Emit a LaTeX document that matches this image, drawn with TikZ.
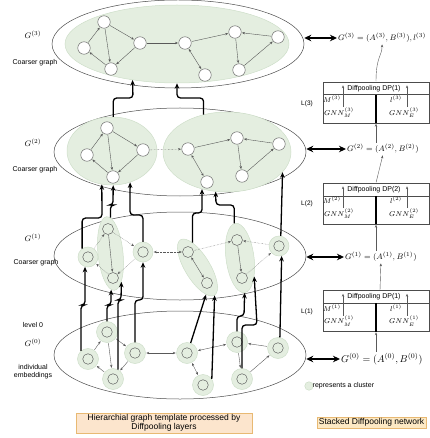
\documentclass[tikz,border=0pt]{standalone}
\usepackage{fontspec}
\setsansfont{Liberation Sans}
\usepackage{xcolor}
\usepackage{tikz}
\usetikzlibrary{positioning,arrows.meta,shapes.geometric}
\definecolor{clu}{RGB}{228,238,224}
\definecolor{cluedge}{RGB}{206,222,201}
\definecolor{peach}{RGB}{252,229,205}
\definecolor{peachedge}{RGB}{232,185,115}
\definecolor{sand}{RGB}{253,233,196}

\begin{document}
\begin{tikzpicture}[x=1pt, y=-1pt,
  tp/.tip={Stealth[length=3pt,width=2.4pt]},
  bg/.tip={Stealth[length=5.5pt,width=4.6pt]},
  dt/.tip={Stealth[length=7pt,width=6.5pt]},
  outer/.style={draw=black!70, line width=0.5pt, ellipse, minimum width=252pt, minimum height=88pt, inner sep=0pt},
  grp/.style={ellipse, fill=clu, draw=cluedge, line width=0.5pt, inner sep=0pt},
  vtx/.style={circle, draw=black!65, fill=white, line width=0.45pt, minimum size=12.5pt, inner sep=0pt},
  pvx/.style={circle, draw=black!65, line width=0.45pt, minimum size=11pt, inner sep=0pt},
  solo/.style={circle, fill=clu, draw=cluedge, line width=0.5pt, minimum size=21pt, inner sep=0pt,
    path picture={\draw[black!65, line width=0.45pt] (path picture bounding box.center) circle (5.3pt);}},
  tarr/.style={-tp, black!65, line width=0.4pt, shorten >=0.5pt, shorten <=0.5pt},
  dots/.style={tarr, densely dotted},
  thk/.style={-bg, line width=1.3pt, rounded corners=3.5pt},
  dbl/.style={dt-dt, line width=1.5pt},
  dpbox/.style={draw=black!70, line width=0.5pt, minimum width=106pt, minimum height=41pt, inner sep=0pt},
  lab/.style={font=\sffamily\fontsize{7}{8}\selectfont, inner sep=0pt, align=center},
  mth/.style={font=\fontsize{7}{8}\selectfont, inner sep=0pt},
  frm/.style={anchor=west, inner sep=1pt, font=\fontsize{8}{9}\selectfont},
  note/.style={line width=0.5pt, draw=peachedge, font=\sffamily\fontsize{8.5}{9}\selectfont, inner sep=0pt, align=center},
]
\useasboundingbox (0,0) rectangle (429,438);

\node[outer] (L3) at (178,44) {};
\node[outer] (L2) at (180,152) {};
\node[outer] (L1) at (180,256) {};
\node[outer] (L0) at (180,355) {};

\node[grp, minimum width=224pt, minimum height=78pt] (E3) at (177,44) {};
\node[grp, minimum width=90pt, minimum height=68pt] (E2a) at (112,151) {};
\node[grp, minimum width=128pt, minimum height=80pt] (E2b) at (227,152) {};
\node[grp, minimum width=74pt, minimum height=25pt, rotate=-84] (c23) at (110.5,253.5) {};
\node[grp, minimum width=65pt, minimum height=25pt, rotate=-58.5] (c56) at (197.5,267.5) {};
\node[grp, minimum width=70pt, minimum height=28pt, rotate=-82.5] (c78) at (240,258) {};

\node[vtx] (u1) at (84,48) {};
\node[vtx] (u2) at (104,22) {};
\node[vtx] (u3) at (111,69) {};
\node[vtx] (u4) at (140,43) {};
\node[vtx] (u5) at (185,43) {};
\node[vtx] (u6) at (205,75) {};
\node[vtx] (u7) at (235,32) {};
\node[vtx] (u8) at (239,70) {};
\node[vtx] (u9) at (278,37) {};
\draw[tarr] (u1) -- (u2);
\draw[tarr] (u2) -- (u3);
\draw[tarr] (u2) -- (u4);
\draw[tarr] (u4) -- (u3);
\draw[tarr] (u3) -- (u1);
\draw[tarr] (u4) -- (u5);
\draw[tarr, tp-tp] (u5) -- (u6);
\draw[tarr] (u5) -- (u7);
\draw[tarr] (u9) -- (u7);
\draw[tarr] (u7) -- (u8);
\draw[tarr] (u8) -- (u9);

\node[vtx] (w1) at (87,155) {};
\node[vtx] (w2) at (107,128) {};
\node[vtx] (w3) at (113,177) {};
\node[vtx] (w4) at (143,150) {};
\node[vtx] (w5) at (188,149) {};
\node[vtx] (w6) at (207,182) {};
\node[vtx] (w7) at (237,138) {};
\node[vtx] (w8) at (242,176) {};
\node[vtx] (w9) at (279,144) {};
\draw[tarr] (w1) -- (w2);
\draw[tarr] (w2) -- (w3);
\draw[tarr] (w2) -- (w4);
\draw[tarr] (w4) -- (w3);
\draw[tarr] (w3) -- (w1);
\draw[dots] (w4) -- (w5);
\draw[tarr, tp-tp] (w5) -- (w6);
\draw[tarr] (w5) -- (w7);
\draw[tarr] (w9) -- (w7);
\draw[tarr] (w7) -- (w8);
\draw[tarr] (w8) -- (w9);

\node[solo, minimum size=20pt] (p1) at (88,257) {};
\node[pvx] (p2) at (108,229) {};
\node[pvx] (p3) at (113,278) {};
\node[solo, minimum size=20pt] (p4) at (143,252) {};
\node[pvx] (p5) at (188,252) {};
\node[pvx] (p6) at (207,283) {};
\node[pvx] (p7) at (237,240) {};
\node[pvx] (p8) at (242,278) {};
\node[solo, minimum size=20pt] (p9) at (279,246) {};
\draw[dots] (p1) -- (p2);
\draw[tarr] (p2) -- (p3);
\draw[dots] (p2) -- (p4);
\draw[dots] (p4) -- (p3);
\draw[dots] (p3) -- (p1);
\draw[dots, tp-tp] (p4) -- (p5);
\draw[tarr, tp-tp] (p5) -- (p6);
\draw[dots] (p5) -- (p7);
\draw[dots] (p9) -- (p7);
\draw[tarr] (p7) -- (p8);
\draw[dots] (p8) -- (p9);

\node[solo] (k1) at (88,359) {};
\node[solo] (k2) at (107,332) {};
\node[solo] (k3) at (113,379) {};
\node[solo] (k4) at (135,353) {};
\node[solo] (k5) at (187,353) {};
\node[solo] (k6) at (203,385) {};
\node[solo] (k7) at (237,342) {};
\node[solo] (k8) at (242,379) {};
\node[solo] (k9) at (278,348) {};
\draw[tarr] (k1) -- (k2);
\draw[tarr] (k2) -- (k3);
\draw[tarr] (k2) -- (k4);
\draw[tarr] (k4) -- (k3);
\draw[tarr] (k3) -- (k1);
\draw[tarr, tp-tp] (k4) -- (k5);
\draw[tarr, tp-tp] (k5) -- (k6);
\draw[tarr, tp-tp] (k5) -- (k7);
\draw[tarr] (k9) -- (k7);
\draw[tarr] (k7) -- (k8);
\draw[tarr] (k8) -- (k9);

\draw[thk] (k1.130) |- (85,305) -- (p1.253);
\draw[thk] (k2) |- (111,305) -- (c23.355);
\draw[thk] (k3.62) |- (121,300) -- (c23.15);
\draw[thk] (k4) |- (143,300) -- (p4);
\draw[thk] (k5.70) -- (c56.346);
\draw[thk] (k6.35) -- (c56.east);
\draw[thk] (k7) |- (244,316) -- (c78.east);
\draw[thk] (k8) |- (257,325) -- (c78.30);
\draw[thk] (k9.80) -- (p9.285);

\draw[thk] (p1.125) |- (102,218) -- (E2a.253);
\draw[thk] (c23) |- (113,205) -- (E2a.272);
\draw[thk] (p4) |- (130,215) -- (E2a.300);
\draw[thk] (c56.160) |- (202,213) -- (E2b.236);
\draw[thk] (c78.182) |- (216,205) -- (E2b.254);
\draw[thk] (p9.80) -- (E2b.340);

\draw[thk] (E2a.88) |- (133,98) -- (E3.219);
\draw[thk] (E2b.122) |- (177,98) -- (E3.south);

\node[mth, font=\fontsize{8}{9}\selectfont] (g3) at (33,35) {$G^{(3)}$};
\node[lab] (cg3) at (35,63) {Coarser graph};
\node[mth, font=\fontsize{8}{9}\selectfont] (g2) at (33,143) {$G^{(2)}$};
\node[lab] (cg2) at (35,170) {Coarser graph};
\node[mth, font=\fontsize{8}{9}\selectfont] (g1) at (33,238) {$G^{(1)}$};
\node[lab] (cg1) at (36,263) {Coarser graph};
\node[lab] (lv0) at (33,325) {level 0};
\node[mth, font=\fontsize{8}{9}\selectfont] (g0) at (33,343) {$G^{(0)}$};
\node[lab] (emb) at (33,372) {individual\\embeddings};

\node[frm] (f3) at (337,38) {$G^{(3)} = (A^{(3)}, B^{(3)}), l^{(3)}$};
\node[frm] (f2) at (346,149) {$G^{(2)} = (A^{(2)}, B^{(2)})$};
\node[frm] (f1) at (344,257) {$G^{(1)} = (A^{(1)}, B^{(1)})$};
\node[frm, font=\fontsize{10}{12}\selectfont] (f0) at (340,359) {$G^{(0)} = (A^{(0)}, B^{(0)})$};
\draw[dbl] (L3.east |- f3.west) -- (f3.west);
\draw[dbl] (L2.east |- f2.west) -- (f2.west);
\draw[dbl] (L1.east |- f1.west) -- (f1.west);
\draw[dbl] (L0.east |- f0.west) -- (f0.west);

\node[dpbox] (dp3) at (376,102.5) {};
\node[dpbox] (dp2) at (376,203.5) {};
\node[dpbox] (dp1) at (376,311) {};
\foreach \b/\t/\i in {dp3/1/3, dp2/2/2, dp1/1/1} {
  \draw[black!70, line width=0.5pt] ([yshift=-13pt]\b.north west) -- ([yshift=-13pt]\b.north east);
  \draw[line width=1.2pt] ([yshift=-13pt]\b.north) -- (\b.south);
  \node[lab] (\b h) at ([xshift=-2pt,yshift=-6.5pt]\b.north) {Diffpooling DP(\t)};
  \node[mth] (\b m) at ([xshift=-44pt,yshift=-17.5pt]\b.north) {$M^{(\i)}$};
  \node[mth] (\b l) at ([xshift=20pt,yshift=-17.5pt]\b.north) {$l^{(\i)}$};
  \node[mth] (\b gm) at ([xshift=-37pt,yshift=-31pt]\b.north) {$GNN_M^{(\i)}$};
  \node[mth] (\b ge) at ([xshift=28pt,yshift=-31pt]\b.north) {$GNN_E^{(\i)}$};
  \coordinate (\b tm) at ([xshift=-33pt,yshift=-3pt]\b.north);
  \coordinate (\b te) at ([xshift=31pt,yshift=-3pt]\b.north);
  \draw[tarr] (\b tm |- \b gm.north) -- (\b tm);
  \draw[tarr] (\b te |- \b ge.north) -- (\b te);
}
\node[lab, font=\sffamily\fontsize{6.5}{7}\selectfont] (lay3) at (307,104) {L(3)};
\node[lab, font=\sffamily\fontsize{6.5}{7}\selectfont] (lay2) at (307,204) {L(2)};
\node[lab, font=\sffamily\fontsize{6.5}{7}\selectfont] (lay1) at (307,312) {L(1)};

\draw[tarr] (f0.north -| dp1.south) -- (dp1.south);
\draw[tarr] ([xshift=4pt]dp1.north) -- (f1.south);
\draw[tarr] (f1.north -| dp2.south) -- (dp2.south);
\draw[tarr] (dp2.north) -- (f2.south);
\draw[tarr] (f2.north -| dp3.south) -- (dp3.south);
\draw[tarr] (dp3.north) .. controls +(0,-25) and +(0,12) .. (f3.south);

\node[circle, fill=clu, draw=cluedge, line width=0.5pt, minimum size=8.5pt, inner sep=0pt] (key) at (309,386) {};
\node[lab, anchor=west] (keytxt) at (312.5,386) {represents a cluster};

\node[note, fill=peach, minimum width=176pt, minimum height=20pt] (hier) at (164,423) {Hierarchial graph template processed by\\Diffpooling layers};
\node[note, fill=sand, minimum width=109pt, minimum height=11.5pt] (stack) at (371.5,422.5) {Stacked Diffpooling network};
\end{tikzpicture}
\end{document}
